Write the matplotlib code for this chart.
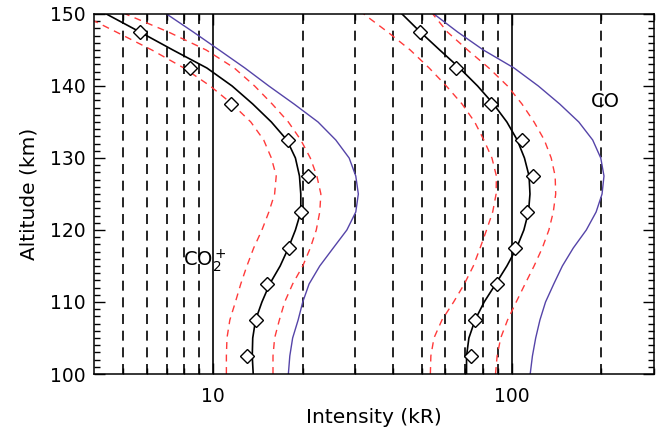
import numpy as np
import matplotlib
matplotlib.use("Agg")
import matplotlib.pyplot as plt
from matplotlib.ticker import FixedLocator, NullFormatter, FixedFormatter

# altitude grid (km), bottom to top
alt = [100, 102.5, 105, 107.5, 110, 112.5, 115, 117.5, 120, 122.5, 125,
       127.5, 130, 132.5, 135, 137.5, 140, 142.5, 145, 147.5, 150]

# CO2+ emission (kR)
co2p_model = [13.65, 13.55, 13.6, 13.9, 14.6, 15.5, 16.8, 17.9, 18.9, 19.7, 19.7,
              19.5, 18.9, 17.7, 15.7, 13.6, 11.6, 9.55, 7.35, 5.7, 4.4]
co2p_low = [11.1, 11.1, 11.15, 11.4, 11.9, 12.4, 13.0, 13.7, 14.6, 15.4, 16.1,
            16.3, 15.7, 14.8, 13.4, 11.6, 9.8, 8.0, 6.25, 4.75, 3.6]
co2p_high = [15.9, 15.9, 16.1, 16.7, 17.4, 18.5, 20.0, 21.2, 22.2, 22.8, 23.0,
             22.3, 21.2, 19.7, 17.9, 15.8, 13.8, 11.8, 9.5, 7.1, 5.1]
co2p_other = [17.9, 18.1, 18.5, 19.3, 20.0, 21.0, 22.8, 25.3, 28.1, 30.1, 30.7,
              30.1, 28.6, 25.8, 22.5, 18.7, 15.4, 12.8, 10.5, 8.6, 7.0]

# CO emission (kR)
co_model = [70.7, 70.7, 72.0, 75.5, 81.0, 88.5, 96.5, 104, 110, 114, 115.3,
            114.5, 110.5, 104.5, 96.5, 87, 77, 67, 57.5, 49.5, 43]
co_low = [53.5, 53.7, 55.0, 58.5, 64.0, 69.5, 74.5, 78.5, 82.5, 86.5, 88.8,
          89.0, 86.0, 80.8, 75.3, 68.3, 60.5, 53.0, 45.8, 38.5, 32]
co_high = [88.4, 89.5, 92, 97, 103.7, 111, 119, 126.8, 133.4, 138, 140.6,
           140.0, 135.8, 128.8, 119, 108.4, 97, 84, 71.3, 61, 54.5]
co_other = [115.5, 117.5, 120.5, 124.5, 130, 138.5, 148, 161, 178, 192, 201,
            204, 199, 187, 168, 145, 123, 102, 80.5, 66, 55]

# observed points
obs_alt = [102.5, 107.5, 112.5, 117.5, 122.5, 127.5, 132.5, 137.5, 142.5, 147.5]
co2p_obs = [13.0, 13.9, 15.2, 18.0, 19.8, 20.8, 17.9, 11.5, 8.4, 5.7]
co_obs = [72.9, 75.3, 89.1, 102.4, 112.3, 117.9, 108.6, 85.5, 65.4, 49.5]

dashed_x = [5, 6, 7, 8, 9, 20, 30, 40, 50, 60, 70, 80, 90, 200]
solid_x = [10, 100]
x_minor = [5, 6, 7, 8, 9, 20, 30, 40, 50, 60, 70, 80, 90, 200, 300]

purple = "#5544a8"
red = "#ff3a3a"

plt.rcParams["font.family"] = ["DejaVu Sans"]
fig = plt.figure(figsize=(6.58, 4.36), dpi=100)
ax = fig.add_axes([94 / 658, 1 - 374 / 436, 560 / 658, 360 / 436])

for xv in dashed_x:
    ax.axvline(xv, color="black", lw=1.2, ls=(0, (6, 4)), zorder=1)
for xv in solid_x:
    ax.axvline(xv, color="black", lw=1.2, zorder=1)

for model, low, high, other, obs in [
        (co2p_model, co2p_low, co2p_high, co2p_other, co2p_obs),
        (co_model, co_low, co_high, co_other, co_obs)]:
    ax.plot(other, alt, color=purple, lw=1.0, zorder=2)
    ax.plot(low, alt, color=red, lw=1.0, ls=(0, (5, 4)), zorder=2)
    ax.plot(high, alt, color=red, lw=1.0, ls=(0, (5, 4)), zorder=2)
    ax.plot(model, alt, color="black", lw=1.2, zorder=3)
    ax.plot(obs, obs_alt, ls="none", marker="D", ms=7.5, mfc="white",
            mec="black", mew=1.0, zorder=4)

ax.text(7.95, 115.8, r"CO$_2^+$", fontsize=14, ha="left", va="center")
ax.text(185, 137.8, "CO", fontsize=14, ha="left", va="center")

ax.set_xscale("log")
ax.set_xlim(4, 300)
ax.set_ylim(100, 150)
ax.xaxis.set_major_locator(FixedLocator([10, 100]))
ax.xaxis.set_major_formatter(FixedFormatter(["10", "100"]))
ax.xaxis.set_minor_locator(FixedLocator(x_minor))
ax.xaxis.set_minor_formatter(NullFormatter())
ax.set_yticks([100, 110, 120, 130, 140, 150])
ax.yaxis.set_minor_locator(FixedLocator(list(range(100, 151))))
ax.tick_params(which="both", direction="in", top=True, right=True,
               labelsize=13.5, width=1)
ax.tick_params(which="major", length=8)
ax.tick_params(axis="x", which="major", pad=9)
ax.tick_params(axis="y", which="major", pad=6)
ax.tick_params(which="minor", length=4)
ax.set_xlabel("Intensity (kR)", fontsize=14.5, labelpad=2)
ax.set_ylabel("Altitude (km)", fontsize=14.5, labelpad=8)
for s in ax.spines.values():
    s.set_linewidth(1.1)

fig.savefig("out.png", dpi=100)
